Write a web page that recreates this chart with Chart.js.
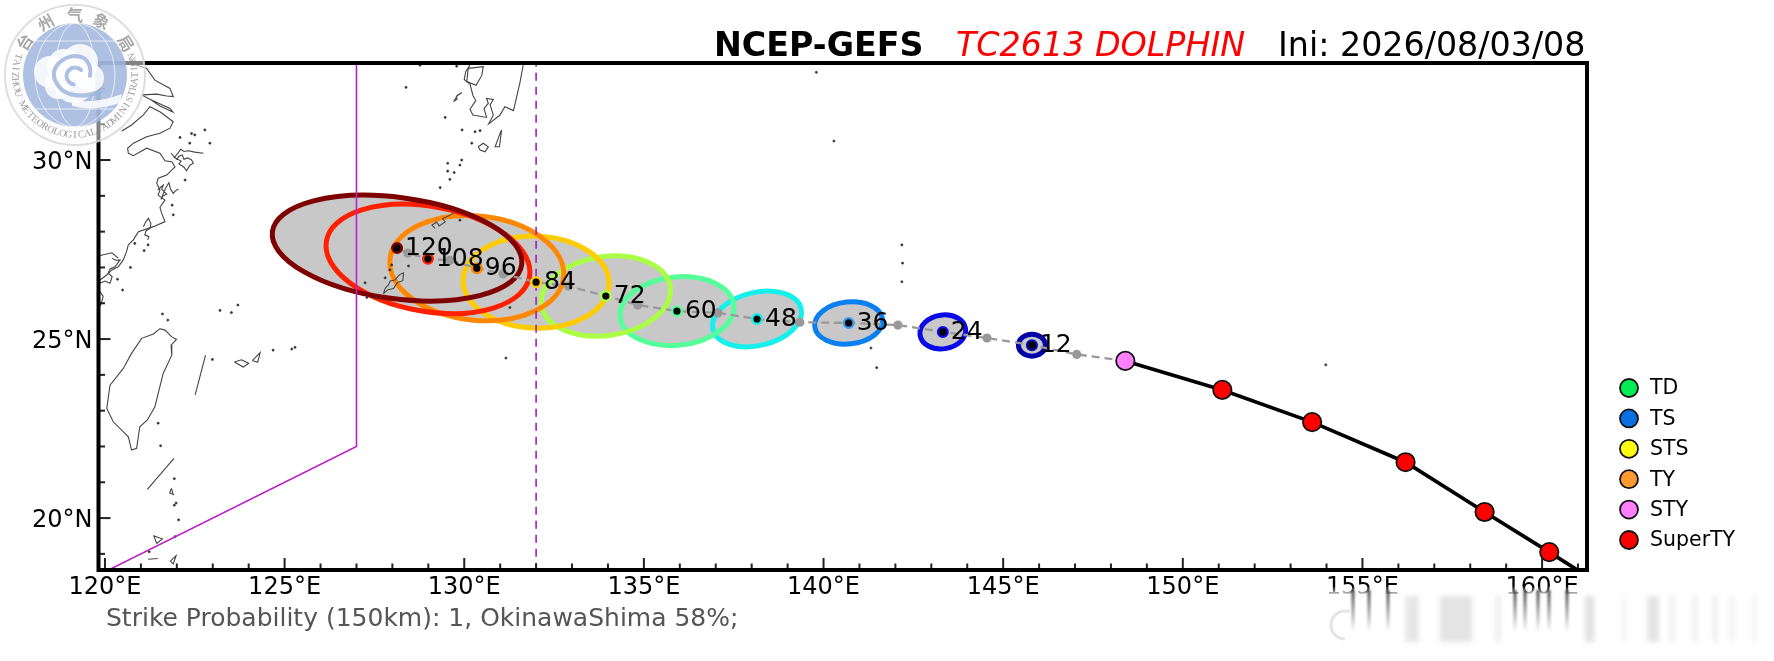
<!DOCTYPE html>
<html><head><meta charset="utf-8">
<style>html,body{margin:0;padding:0;background:#fff}canvas{display:block}</style>
<script src="https://cdn.jsdelivr.net/npm/chart.js@4"></script>
</head><body><canvas id="c" width="1774" height="661"></canvas>
<script>
const FONT = '"DejaVu Sans"';
// forecast hours and ensemble-mean positions
const hours   = [12,24,36,48,60,72,84,96,108,120];
const hourLon = [145.8,143.32,140.7,138.15,135.92,133.94,132.0,130.35,128.99,128.13];
const hourLat = [24.83,25.2,25.45,25.56,25.78,26.2,26.59,26.98,27.24,27.54];
const hourColor = ['#0000a8','#0808e8','#0a80f0','#14f0ec','#55ff99','#aaff44','#ffcc00','#ff8800','#ff2000','#7f0000'];
const ringColor = ['#0000a8','#0808e8','#3a9af0','#14f0ec','#55ff99','#aaff44','#ffcc00','#ff8800','#ff2000','#7f0000'];
// spread ellipses: semi-axes in degrees of longitude, tilt in screen degrees
const semiA = [0.376,0.64,0.95,1.26,1.59,1.81,2.03,2.43,2.87,3.5];
const semiB = [0.306,0.47,0.585,0.74,0.95,1.1,1.28,1.45,1.46,1.41];
const tilt  = [0,-8,-6,-13,-6,-8,2,6,10,7.6];
// intermediate 6-hour positions
const midLon = [147.05,144.55,142.07,139.34,137.06,134.83,132.9,131.08,129.6,128.43];
const midLat = [24.57,25.03,25.39,25.47,25.73,25.95,26.48,26.82,27.2,27.4];
// past / analysis track
const pastLon = [148.4,151.1,153.6,156.2,158.4,160.2,162.0];
const pastLat = [24.39,23.58,22.68,21.56,20.17,19.05,17.9];
const pastColor = ['#ff80ff','#ff0000','#ff0000','#ff0000','#ff0000','#ff0000','#ff0000'];
// warning lines
const warnLon = [127,127,119];
const warnLat = [34,22,18];
const dashLon = [132,132];
const dashLat = [34,18];
// legend
const legendNames  = ['TD','TS','STS','TY','STY','SuperTY'];
const legendColors = ['#00ee55','#0a6fe0','#ffff10','#ff9933','#ff80ff','#ff0000'];
// axis ticks
const xMajorEvery = 5, yMajorEvery = 5;
// coastlines [lon,lat]
const coastYangtzeN = [[120.74,32.70],[121.16,32.56],[121.39,32.23],[121.81,32.0],[121.90,31.77],[121.72,31.79],[121.44,31.84],[121.02,31.82]];
const coastChongming = [[121.02,31.82],[121.25,31.70],[121.81,31.44],[121.89,31.34],[121.53,31.51],[121.25,31.70]];
const coastMain = [[120.47,30.81],[120.74,30.98],[121.07,31.26],[121.25,31.49],[121.53,31.35],[121.90,31.07],[121.81,30.89],[121.53,30.75],[121.16,30.65],[120.79,30.47],[120.63,30.33],[120.65,30.19],[120.79,30.12],[121.16,30.33],[121.53,30.19],[121.67,29.98],[121.86,29.95],[121.95,29.81],[121.72,29.58],[121.48,29.49],[121.44,29.35],[121.53,29.16],[121.48,29.02],[121.67,28.88],[121.53,28.68],[121.58,28.51],[121.67,28.28],[121.35,28.14],[120.93,28.0],[120.79,27.77],[120.65,27.63],[120.6,27.44],[120.51,27.21],[120.37,27.02],[120.19,26.93],[120.05,26.79],[119.86,26.65],[119.83,26.37],[119.95,26.19],[119.89,25.98],[119.80,25.8]];
const coastInland = [[119.81,27.32],[120.19,27.41],[120.37,27.26]];
const islZhoushan = [[121.84,30.19],[121.92,30.1],[122.0,30.02],[122.05,30.1],[122.15,30.14],[122.2,30.02],[122.3,30.06],[122.41,30.0],[122.46,29.91],[122.36,29.85],[122.27,29.70],[122.2,29.8],[122.06,29.89],[122.12,29.97],[121.93,30.07],[122.02,30.18],[122.11,30.30],[122.2,30.24],[122.32,30.26],[122.5,30.22],[122.74,30.19]];
const islCluster2 = [[121.47,29.16],[121.55,29.24],[121.62,29.3],[121.58,29.18],[121.72,29.05],[121.62,29.0],[121.56,28.9],[121.68,29.2],[121.78,29.37],[121.82,29.2],[121.9,29.07],[121.96,29.14],[122.04,29.19]];
const islCluster3 = [[121.07,28.14],[121.14,28.28],[121.21,28.37],[121.28,28.22],[121.25,28.09],[121.14,28.02],[121.11,27.91],[121.22,27.86],[121.19,27.77]];
const islCluster4 = [[120.19,27.26],[120.3,27.2],[120.42,27.21],[120.34,27.1],[120.28,27.02],[120.14,26.96],[120.09,26.84],[120.2,26.74],[120.14,26.56],[120.0,26.62],[119.86,26.56]];
const kyushu = [[130.16,32.65],[130.04,32.47],[130.0,32.25],[130.16,32.12],[130.24,31.81],[130.32,31.66],[130.16,31.42],[130.24,31.26],[130.62,31.19],[130.55,31.44],[130.67,31.58],[130.62,31.72],[130.81,31.69],[130.72,31.54],[130.81,31.26],[130.68,31.01],[130.99,31.25],[131.13,31.49],[131.37,31.38],[131.46,31.77],[131.55,32.16],[131.65,32.7]];
const amakusa = [[130.11,32.56],[130.53,32.61],[130.49,32.37],[130.33,32.09],[130.07,32.19],[130.11,32.56]];
const koshiki = [[129.7,31.63],[129.8,31.7],[129.78,31.78],[129.93,31.88],[129.82,31.82],[129.7,31.63]];
const tanegashima = [[131.04,30.84],[130.98,30.37],[130.86,30.37],[131.0,30.75],[131.04,30.84]];
const yakushima = [[130.39,30.37],[130.53,30.47],[130.67,30.37],[130.58,30.23],[130.44,30.28],[130.39,30.37]];
const amami = [[129.19,28.09],[129.1,28.18],[129.23,28.27],[129.3,28.16],[129.47,28.27],[129.4,28.36],[129.7,28.51]];
const okinawa = [[127.75,26.27],[127.8,26.42],[127.89,26.51],[127.94,26.62],[128.07,26.65],[128.2,26.8],[128.31,26.85],[128.29,26.63],[128.14,26.58],[128.03,26.41],[127.88,26.38],[127.75,26.27]];
const taiwan = [[121.53,25.29],[121.67,25.25],[121.86,25.06],[121.99,24.99],[121.84,24.83],[121.86,24.55],[121.62,24.04],[121.39,23.11],[121.18,22.74],[120.97,22.55],[120.88,21.95],[120.74,21.9],[120.65,22.27],[120.23,22.69],[120.05,23.06],[120.14,23.71],[120.51,24.18],[120.74,24.6],[121.02,25.02],[121.35,25.14],[121.53,25.29]];
const strait1 = [[122.8,24.55],[122.51,23.44]];
const strait2 = [[121.92,21.67],[121.18,20.8]];
const yaeyama = [[123.6,24.36],[123.8,24.42],[124.0,24.32],[123.85,24.22],[123.6,24.36]];
const miyako = [[124.1,24.4],[124.32,24.62],[124.25,24.35],[124.1,24.4]];
const luzon1 = [[121.44,19.29],[121.6,19.42],[121.36,19.5],[121.44,19.29]];
const luzon2 = [[121.85,20.83],[121.9,20.66],[121.8,20.7],[121.85,20.83]];
const luzon3 = [[121.2,18.85],[121.47,18.87]];
const luzon4 = [[121.82,18.8],[121.98,18.95],[121.9,18.72],[121.82,18.8]];
const islets = [[122.78,30.84],[122.41,30.74],[122.5,30.7],[122.09,30.63],[122.36,30.47],[122.92,30.47],[122.23,29.44],[121.9,28.47],[121.87,28.74],[121.09,27.47],[120.83,27.67],[121.2,27.63],[120.35,26.67],[120.49,26.37],[120.71,27.0],
 [128.77,32.65],[129.79,32.62],[128.38,32.03],[129.47,31.19],[129.94,30.84],[130.3,30.79],[130.44,30.82],[130.21,30.47],[129.54,29.91],[129.88,29.86],[129.93,30.0],[129.72,29.65],[129.54,29.69],[129.6,29.46],[129.33,29.23],
 [129.88,28.32],[127.93,26.93],[127.98,27.07],[128.45,27.04],[127.24,26.57],[127.8,26.71],[127.29,26.16],[127.55,26.16],[131.27,25.88],[128.9,27.81],
 [142.18,27.63],[142.2,27.12],[142.18,26.6],[141.32,24.75],[141.48,24.2],[153.98,24.28],[139.8,32.45],[140.29,30.53],[131.16,24.47],
 [122.99,24.43],[123.52,25.74],[124.68,24.69],[125.29,24.77],[125.2,24.72],[121.48,22.65],[121.55,22.02],[121.93,20.36],[121.98,20.42],[121.95,19.48],[121.23,19.06],[122.05,19.95],[121.93,21.1],[121.6,25.7],[121.75,25.53],[123.7,25.95],[123.2,25.8]];
const coastSets = [coastYangtzeN,coastChongming,coastMain,coastInland,islZhoushan,islCluster2,islCluster3,islCluster4,kyushu,amakusa,koshiki,tanegashima,yakushima,amami,okinawa,taiwan,strait1,strait2,yaeyama,miyako,luzon1,luzon2,luzon3,luzon4];

const zip = (a,b)=>a.map((v,i)=>({x:v,y:b[i]}));
const pairs = a=>a.map(p=>({x:p[0],y:p[1]}));
// dashed guidance track threads the 6-hour points from the last analysis point
const trackLon = [pastLon[0]], trackLat = [pastLat[0]];
hours.forEach((h,i)=>{trackLon.push(midLon[i],hourLon[i]);trackLat.push(midLat[i],hourLat[i]);});

const ellipses = {
  id:'ellipses',
  beforeDatasetsDraw(chart){
    const {ctx,chartArea:a,scales:{x,y}} = chart;
    const shape = i=>{
      const px=x.getPixelForValue(hourLon[i]), py=y.getPixelForValue(hourLat[i]);
      const ra=x.getPixelForValue(hourLon[i]+semiA[i])-px, rb=x.getPixelForValue(hourLon[i]+semiB[i])-px;
      ctx.beginPath(); ctx.ellipse(px,py,ra,rb,tilt[i]*Math.PI/180,0,Math.PI*2);
    };
    ctx.save();
    ctx.beginPath(); ctx.rect(a.left,a.top,a.width,a.height); ctx.clip();
    ctx.fillStyle='#c8c8c8';
    hours.forEach((h,i)=>{shape(i);ctx.fill();});
    ctx.lineWidth=5;
    hours.forEach((h,i)=>{shape(i);ctx.strokeStyle=hourColor[i];ctx.stroke();});
    ctx.restore();
  }
};
const frame = {
  id:'frame',
  afterDatasetsDraw(chart){
    const {ctx,chartArea:a,scales:{x,y}} = chart;
    ctx.save();
    // hour labels
    ctx.fillStyle='#000'; ctx.font='25px '+FONT; ctx.textAlign='left'; ctx.textBaseline='middle';
    hours.forEach((h,i)=>ctx.fillText(String(h),x.getPixelForValue(hourLon[i])+8,y.getPixelForValue(hourLat[i])+0.5));
    // inward ticks
    ctx.strokeStyle='#222'; ctx.lineWidth=2;
    x.ticks.forEach(t=>{
      const p=x.getPixelForValue(t.value), len=t.value%xMajorEvery===0?12:6.5;
      ctx.beginPath();ctx.moveTo(p,a.bottom);ctx.lineTo(p,a.bottom-len);ctx.stroke();
    });
    y.ticks.forEach(t=>{
      const p=y.getPixelForValue(t.value), len=t.value%yMajorEvery===0?12:6.5;
      ctx.beginPath();ctx.moveTo(a.left,p);ctx.lineTo(a.left+len,p);ctx.stroke();
    });
    ctx.strokeStyle='#000'; ctx.lineWidth=4;
    ctx.strokeRect(a.left,a.top,a.width,a.height);
    ctx.restore();
  },
  afterDraw(chart){
    const {ctx} = chart;
    ctx.save();
    // title
    ctx.textBaseline='alphabetic'; ctx.textAlign='left';
    ctx.font='bold 33.3px '+FONT; ctx.fillStyle='#000'; ctx.fillText('NCEP-GEFS',714,56);
    ctx.font='italic 33.3px '+FONT; ctx.fillStyle='#ff0000'; ctx.fillText('TC2613 DOLPHIN',956,56);
    ctx.font='33.3px '+FONT; ctx.fillStyle='#000'; ctx.fillText('Ini: 2026/08/03/08',1278,56);
    // strike note
    ctx.font='25px '+FONT; ctx.fillStyle='#555'; ctx.textBaseline='middle';
    ctx.fillText('Strike Probability (150km): 1, OkinawaShima 58%;',106,619);
    // legend
    ctx.font='20.5px '+FONT; ctx.fillStyle='#000';
    legendNames.forEach((n,i)=>{
      const cy=388+i*30.4;
      ctx.beginPath();ctx.arc(1629,cy,9,0,Math.PI*2);ctx.fillStyle=legendColors[i];ctx.fill();
      ctx.lineWidth=1.8;ctx.strokeStyle='#111';ctx.stroke();
      ctx.fillStyle='#000';ctx.fillText(n,1650,cy+1);
    });
    ctx.restore();
    drawStamp(ctx);
    drawSmear(ctx);
  }
};
function drawStamp(ctx){
  const cx=75,cy=75;
  ctx.save();
  ctx.globalAlpha=0.85;
  ctx.beginPath();ctx.arc(cx,cy,70,0,Math.PI*2);ctx.fillStyle='rgba(255,255,255,0.6)';ctx.fill();
  ctx.lineWidth=2;ctx.strokeStyle='#d8d8d8';ctx.stroke();
  ctx.beginPath();ctx.arc(cx,cy,52,0,Math.PI*2);ctx.fillStyle='#a0b6dd';ctx.fill();
  // globe lines
  ctx.strokeStyle='rgba(255,255,255,0.8)';ctx.lineWidth=1;
  ctx.save();ctx.beginPath();ctx.arc(cx,cy,52,0,Math.PI*2);ctx.clip();
  for(const rx of [20,40]){ctx.beginPath();ctx.ellipse(cx,cy,rx,52,0,0,Math.PI*2);ctx.stroke();}
  for(const dy of [-34,34]){ctx.beginPath();ctx.moveTo(cx-52,cy+dy);ctx.lineTo(cx+52,cy+dy);ctx.stroke();}
  ctx.restore();
  // cloud
  ctx.fillStyle='#fff';
  for(const [x,y,r] of [[50,72,16],[64,66,17],[80,62,18],[90,78,14],[74,82,21],[58,86,13]]){ctx.beginPath();ctx.arc(x,y,r,0,Math.PI*2);ctx.fill();}
  ctx.beginPath();ctx.moveTo(72,100);ctx.quadraticCurveTo(96,104,122,94);ctx.lineTo(120,103);ctx.quadraticCurveTo(95,112,72,106);ctx.fill();
  ctx.strokeStyle='#a0b6dd';ctx.lineWidth=4;ctx.lineCap='round';
  ctx.beginPath();ctx.moveTo(100,92);ctx.quadraticCurveTo(76,100,62,90);ctx.quadraticCurveTo(48,76,58,64);ctx.quadraticCurveTo(70,52,84,58);ctx.quadraticCurveTo(92,64,90,76);ctx.stroke();
  ctx.beginPath();ctx.arc(75,76,8.5,-0.25*Math.PI,0.55*Math.PI,true);ctx.stroke();
  // circular text
  ctx.fillStyle='#999';ctx.textAlign='center';ctx.textBaseline='middle';
  ctx.font='bold 16px "Noto Sans CJK SC"';
  const zh=['台','州','气','象','局'], ang=[-57,-29,0,26,58];
  zh.forEach((c,i)=>{const t=ang[i]*Math.PI/180;ctx.save();ctx.translate(cx+60*Math.sin(t),cy-60*Math.cos(t));ctx.rotate(t);ctx.fillText(c,0,0);ctx.restore();});
  ctx.font='10px "Liberation Serif"';ctx.fillStyle='#8a8a8a';
  const en='TAIZHOU METEOROLOGICAL ADMINISTRATION';
  const start=-108,end=108;
  [...en].forEach((c,i)=>{const d=start+(end-start)*i/(en.length-1),t=d*Math.PI/180;
    ctx.save();ctx.translate(cx+60*Math.sin(t),cy+60*Math.cos(t));ctx.rotate(-t);ctx.fillText(c,0,0);ctx.restore();});
  ctx.restore();
}
function drawSmear(ctx){
  ctx.save();
  // pale platform watermark over the lower-right corner
  const g=ctx.createLinearGradient(0,586,0,596);
  g.addColorStop(0,'rgba(255,255,255,0)');g.addColorStop(1,'#fff');
  ctx.fillStyle=g;ctx.fillRect(1323,586,440,10);
  ctx.fillStyle='#fff';ctx.fillRect(1323,596,440,50);
  ctx.filter='blur(2.5px)';
  const bands=[[1405,12,.14],[1440,32,.16],[1495,6,.1],[1585,9,.18],[1622,4,.08],[1647,12,.16],[1670,4,.1],[1693,4,.12],[1713,4,.12],[1730,4,.1],[1752,4,.08],[1415,4,.08]];
  bands.forEach(([x,w,o])=>{ctx.fillStyle=`rgba(90,90,90,${o})`;ctx.fillRect(x,596,w,46);});
  ctx.filter='blur(1px)';
  for(const x of [1353,1369,1388,1515,1525,1538,1549,1567]){
    const s=ctx.createLinearGradient(0,590,0,632);
    s.addColorStop(0,'rgba(40,40,40,.85)');s.addColorStop(1,'rgba(40,40,40,0)');
    ctx.fillStyle=s;ctx.fillRect(x-1.5,590,3,42);
  }
  ctx.filter='none';
  ctx.strokeStyle='rgba(225,225,225,.9)';ctx.lineWidth=3;
  ctx.beginPath();ctx.arc(1345,625,14,Math.PI*.5,Math.PI*1.6);ctx.stroke();
  ctx.restore();
}

const coastDatasets = coastSets.map(s=>({data:pairs(s),showLine:true,borderColor:'#444',borderWidth:1.1,pointRadius:0,tension:0,order:20}));

new Chart(document.getElementById('c'),{
  type:'scatter',
  data:{datasets:[
    {label:'hours',data:zip(hourLon,hourLat),pointRadius:4.8,pointBorderWidth:2.4,pointBackgroundColor:'#000',pointBorderColor:ringColor,showLine:false,order:1},
    {label:'past',data:zip(pastLon,pastLat),showLine:true,borderColor:'#000',borderWidth:3.7,tension:0,pointRadius:9.2,pointBorderWidth:1.8,pointBackgroundColor:pastColor,pointBorderColor:'#111',order:2},
    {label:'mid',data:zip(midLon,midLat),pointRadius:4.6,pointBorderWidth:0,pointBackgroundColor:'#999',showLine:false,order:3},
    {label:'track',data:zip(trackLon,trackLat),showLine:true,borderColor:'#999',borderWidth:2.3,borderDash:[8,5],pointRadius:0,tension:0,order:4},
    {label:'dash',data:zip(dashLon,dashLat),showLine:true,borderColor:'#a020b8',borderWidth:1.6,borderDash:[8,6],pointRadius:0,order:5},
    {label:'warn',data:zip(warnLon,warnLat),showLine:true,borderColor:'#bb22cc',borderWidth:1.6,pointRadius:0,tension:0,order:6},
    {label:'islets',data:pairs(islets),showLine:false,pointRadius:1.1,pointBorderWidth:.6,pointBackgroundColor:'#333',pointBorderColor:'#333',order:7},
    ...coastDatasets
  ]},
  options:{
    responsive:false,animation:false,devicePixelRatio:1,
    layout:{padding:{top:63,right:187,left:0,bottom:0}},
    plugins:{legend:{display:false},tooltip:{enabled:false},title:{display:false}},
    scales:{
      x:{type:'linear',min:119.82,max:161.25,
        grid:{display:false,drawTicks:false},border:{display:false},
        afterFit(s){s.height=91;},
        ticks:{stepSize:1,includeBounds:false,autoSkip:false,maxRotation:0,padding:3,color:'#000',font:{family:FONT,size:24},
          callback:v=>v%xMajorEvery===0?v+'°E':''}},
      y:{type:'linear',min:18.55,max:32.71,
        grid:{display:false,drawTicks:false},border:{display:false},
        afterFit(s){s.width=98.5;},
        ticks:{stepSize:1,includeBounds:false,autoSkip:false,padding:6,labelOffset:3,color:'#000',font:{family:FONT,size:24},
          callback:v=>v%yMajorEvery===0?v+'°N':''}}
    }
  },
  plugins:[ellipses,frame]
});
</script></body></html>
